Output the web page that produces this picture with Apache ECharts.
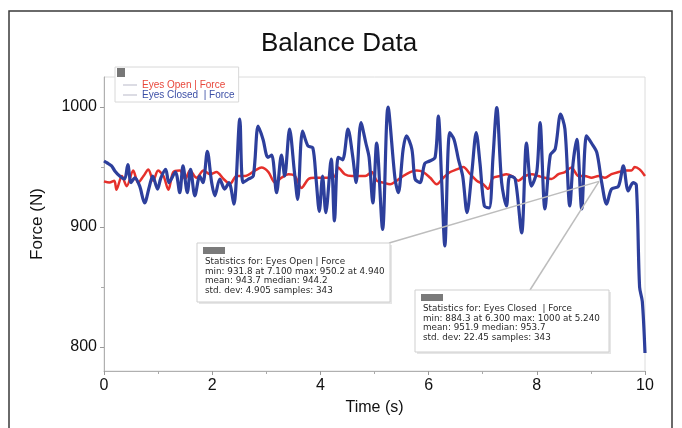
<!DOCTYPE html>
<html>
<head>
<meta charset="utf-8">
<script src="https://cdn.jsdelivr.net/npm/echarts@6/dist/echarts.min.js"></script>
<style>html,body{margin:0;padding:0;background:#fff;}#c{width:682px;height:428px;}</style>
</head>
<body>
<div id="c"></div>
<script>
// ---- data ----
const eyesOpenTime = [0.00,0.10,0.19,0.23,0.33,0.42,0.54,0.63,0.73,0.82,0.91,1.00,1.10,1.19,1.28,1.40,1.50,1.59,1.71,1.84,1.96,2.08,2.21,2.33,2.45,2.61,2.79,2.91,3.04,3.16,3.28,3.41,3.53,3.65,3.78,3.90,4.02,4.15,4.27,4.33,4.45,4.58,4.70,4.83,4.95,5.04,5.16,5.29,5.41,5.53,5.66,5.78,5.90,6.03,6.15,6.27,6.40,6.52,6.64,6.77,6.89,7.01,7.10,7.19,7.32,7.44,7.54,7.66,7.78,7.91,8.03,8.15,8.27,8.40,8.52,8.64,8.77,8.89,9.01,9.14,9.26,9.38,9.51,9.63,9.75,9.81,9.90,10.00];
const eyesOpenForce = [938,937,938.6,931,942.5,934,947,937,942.5,948,938.6,947,942.5,931,945.8,947,940,947,941,947,944,945.8,940,936,942.5,942.5,947,949.5,945.8,937,941,944,942.5,932.6,940,941,941,941,942.5,949.5,944,942.5,942.5,942.5,945.8,938.6,937,935.6,938.6,942.5,945.8,947,945.8,941,935.6,941,945.8,948,950,944,938.6,935.6,931.8,941,942.5,944,942.5,938.6,942.5,944,942.5,941,940,944,945.8,949.5,942.5,942.5,941,942.5,941,944,945.8,947,947,950,948,942.5];

const eyesClosedTime = [0.00,0.05,0.14,0.20,0.29,0.38,0.44,0.50,0.57,0.66,0.75,0.84,0.90,0.99,1.05,1.14,1.20,1.32,1.40,1.46,1.54,1.60,1.68,1.77,1.83,1.91,1.99,2.05,2.14,2.23,2.31,2.40,2.51,2.57,2.67,2.76,2.85,2.94,3.03,3.10,3.19,3.28,3.34,3.43,3.52,3.58,3.67,3.77,3.86,3.92,3.98,4.04,4.10,4.20,4.26,4.33,4.41,4.51,4.60,4.66,4.75,4.84,4.90,4.97,5.04,5.15,5.25,5.38,5.44,5.53,5.59,5.69,5.75,5.84,5.93,6.02,6.12,6.18,6.24,6.30,6.39,6.47,6.55,6.63,6.71,6.80,6.88,6.95,7.03,7.12,7.19,7.26,7.35,7.44,7.50,7.60,7.72,7.81,7.90,8.00,8.06,8.15,8.25,8.34,8.44,8.52,8.61,8.67,8.74,8.83,8.92,9.01,9.11,9.20,9.29,9.38,9.51,9.60,9.69,9.78,9.84,9.90,9.95,10.00];
const eyesClosedForce = [955,953.6,951,946.7,942.5,940,952,937,941,934,920,934,942.5,931.6,940.8,948,937,945.8,928.6,951,928.6,948,926,942.5,937,963,937,926,940,931.6,937,919,990,937,940,942.5,984,973,958,960,928.6,960,942.5,981.6,945.8,923,980,967.5,966,940,913,942.5,912,956.6,905,958,956,981.6,958,937,987,970,958,920,970,898,1000,940,928.6,965,976,965,940,937,953,955,958,992.5,940,884.3,978.6,973,956.6,942.5,912,945.8,978.6,953,917.5,916,958,999.5,937,917.5,942.5,940,895,970,934,946,987,915,960,965,994,981.6,917.5,953,973,915,976,970,962,937,919,931.6,934,951,930,937,935,850,838,795];

const seriesNames = ['Eyes Open | Force', 'Eyes Closed  | Force'];
const xTickStep = 2;
const yTickValues = [800, 900, 1000];
const yMinorTickValues = [850, 950];
const statsOpen = ['Statistics for: Eyes Open | Force', 'min: 931.8 at 7.100 max: 950.2 at 4.940', 'mean: 943.7 median: 944.2', 'std. dev: 4.905 samples: 343'];
const statsClosed = ['Statistics for: Eyes Closed  | Force', 'min: 884.3 at 6.300 max: 1000 at 5.240', 'mean: 951.9 median: 953.7', 'std. dev: 22.45 samples: 343'];
const statsAnchor = [9.15, 938];

const pairs = (t, v) => t.map((x, i) => [x, v[i]]);

const chart = echarts.init(document.getElementById('c'), null, {renderer: 'canvas'});
const FONT = 'Liberation Sans, Arial, sans-serif';

const option = {
  animation: false,
  backgroundColor: '#fff',
  title: {
    text: 'Balance Data', left: 256, top: 26,
    textStyle: {fontFamily: FONT, fontSize: 26, fontWeight: 'normal', color: '#111'}
  },
  grid: {left: 104, right: 37, top: 77, bottom: 57, show: true, borderColor: '#dcdcdc', borderWidth: 1, backgroundColor: 'transparent'},
  legend: {
    orient: 'vertical', left: 115, top: 67,
    padding: [13, 4, 2, 8], itemGap: 0, itemWidth: 14, itemHeight: 1, icon: 'rect',
    borderColor: '#d8d8d8', borderWidth: 1, backgroundColor: '#fff',
    textStyle: {fontFamily: FONT, fontSize: 10, lineHeight: 10},
    data: [
      {name: seriesNames[0], textStyle: {color: '#e8473b'}, itemStyle: {color: '#b8b8c8'}},
      {name: seriesNames[1], textStyle: {color: '#3c4fa6'}, itemStyle: {color: '#b8b8c8'}}
    ]
  },
  xAxis: {
    type: 'value', min: 0, max: 10, interval: xTickStep,
    name: 'Time (s)', nameLocation: 'middle', nameGap: 29,
    nameTextStyle: {fontFamily: FONT, fontSize: 16, color: '#111'},
    axisLine: {show: true, lineStyle: {color: '#b0b0b0', width: 1}},
    axisTick: {show: true, length: 4, lineStyle: {color: '#999'}},
    minorTick: {show: true, splitNumber: 2, length: 3, lineStyle: {color: '#aaa'}},
    axisLabel: {fontFamily: FONT, fontSize: 16, color: '#111', margin: 7},
    splitLine: {show: false}
  },
  yAxis: [{
    type: 'value', min: 780, max: 1025,
    name: 'Force (N)', nameLocation: 'middle', nameGap: 58,
    nameTextStyle: {fontFamily: FONT, fontSize: 17, color: '#111'},
    axisLine: {show: true, lineStyle: {color: '#b0b0b0', width: 1}},
    axisTick: {show: true, length: 4, customValues: yTickValues, lineStyle: {color: '#999'}},
    axisLabel: {fontFamily: FONT, fontSize: 16, color: '#111', margin: 7, customValues: yTickValues, formatter: v => String(v)},
    splitLine: {show: false}
  }, {
    type: 'value', min: 780, max: 1025, position: 'left',
    axisLine: {show: false},
    axisTick: {show: true, length: 3, customValues: yMinorTickValues, lineStyle: {color: '#aaa'}},
    axisLabel: {show: false},
    splitLine: {show: false}
  }],
  series: [{
    name: seriesNames[0], type: 'line', showSymbol: false, smooth: 0.3,
    data: pairs(eyesOpenTime, eyesOpenForce),
    lineStyle: {color: '#e5302b', width: 2.5}, itemStyle: {color: '#e5302b'}, z: 2
  }, {
    name: seriesNames[1], type: 'line', showSymbol: false, smooth: 0.3,
    data: pairs(eyesClosedTime, eyesClosedForce),
    lineStyle: {color: '#2d3f9c', width: 3.2}, itemStyle: {color: '#2d3f9c'}, z: 3
  }]
};
chart.setOption(option);

const anchor = chart.convertToPixel({xAxisIndex: 0, yAxisIndex: 0}, statsAnchor);
function statBox(x, y, w, h, lines) {
  return [
    {type: 'rect', z: 100, shape: {x: x + 2, y: y + 2, width: w, height: h}, style: {fill: '#e6e6e6'}},
    {type: 'rect', z: 101, shape: {x: x, y: y, width: w, height: h}, style: {fill: '#fff', stroke: '#cfcfcf', lineWidth: 1}},
    {type: 'rect', z: 102, shape: {x: x + 6, y: y + 4, width: 22, height: 7}, style: {fill: '#7a7a7a'}},
    {type: 'text', z: 102, x: x + 8, y: y + 14, style: {text: lines.join('\n'), font: '8.8px "DejaVu Sans", sans-serif', lineHeight: 9.6, fill: '#2a2a2a'}}
  ];
}
chart.setOption({
  graphic: [
    {type: 'rect', z: 100, shape: {x: 9, y: 11, width: 663, height: 440}, style: {fill: null, stroke: '#3a3a3a', lineWidth: 1.5}},
    {type: 'rect', z: 100, shape: {x: 117, y: 68, width: 8, height: 9}, style: {fill: '#777'}},
    {type: 'line', z: 99, shape: {x1: 389, y1: 243, x2: anchor[0], y2: anchor[1]}, style: {stroke: '#bdbdbd', lineWidth: 1.5}},
    {type: 'line', z: 99, shape: {x1: 530, y1: 290, x2: anchor[0], y2: anchor[1]}, style: {stroke: '#bdbdbd', lineWidth: 1.5}},
    ...statBox(197, 243, 193, 59, statsOpen),
    ...statBox(415, 290, 194, 62, statsClosed)
  ]
});
</script>
</body>
</html>
